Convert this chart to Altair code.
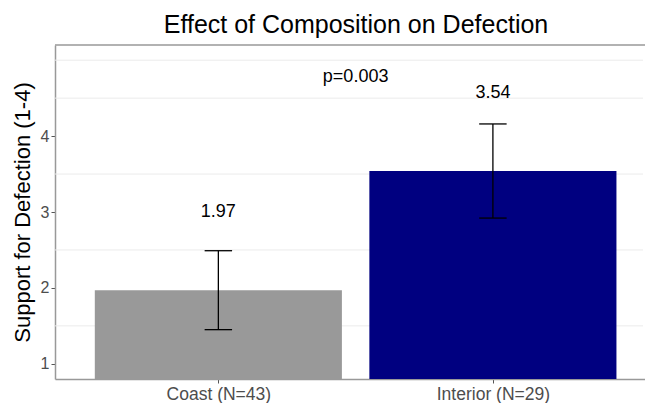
import altair as alt
import pandas as pd

# ---- data ----
groups = ["Coast (N=43)", "Interior (N=29)"]
means = [1.97, 3.54]
lower = [1.45, 2.92]
upper = [2.49, 4.16]
bar_colors = ["#999999", "#000080"]
p_text = "p=0.003"
p_y = 4.78
y_ticks = [1, 2, 3, 4]
minor_grid = [1.5, 2.5, 3.5, 4.5, 5]
y_min, y_max = 0.8, 5.2

FONT = "Liberation Sans"
pos = list(range(1, len(groups) + 1))
df = pd.DataFrame({"group": groups, "pos": pos, "mean": means,
                   "lower": lower, "upper": upper})
df["x_lo"] = df["pos"] - 0.45
df["x_hi"] = df["pos"] + 0.45
df["cap_lo"] = df["pos"] - 0.05
df["cap_hi"] = df["pos"] + 0.05
df["base"] = y_min
df["label"] = df["mean"].map(lambda v: f"{v:.2f}")
df["label_y"] = df["mean"] + 1.03

p_df = pd.DataFrame({"x": [sum(pos) / len(pos)], "y": [p_y], "t": [p_text]})
grid_df = pd.DataFrame({"g": minor_grid})
frame_df = pd.DataFrame({"top": [y_max]})

W, H = 590, 334
xs = alt.Scale(domain=[0.405, 2.554], nice=False, zero=False)
ys = alt.Scale(domain=[y_min, y_max], nice=False, zero=False)

label_expr = " : ".join(
    [f"datum.value == {p} ? '{g}'" for p, g in zip(pos, groups)]) + " : ''"

x_axis = alt.Axis(values=pos, labelExpr=label_expr, title=None, grid=False,
                  tickSize=4, labelPadding=2, labelFontSize=17.5,
                  labelColor="#4D4D4D", tickColor="#555555",
                  domainColor="#999999", domainWidth=1.5, labelFont=FONT)
y_axis = alt.Axis(values=y_ticks, title="Support for Defection (1-4)", grid=False,
                  tickSize=4, labelPadding=2, labelFontSize=16,
                  labelColor="#4D4D4D", tickColor="#555555",
                  domainColor="#999999", domainWidth=1.5, labelFont=FONT,
                  titleFont=FONT, titleFontSize=22, titleFontWeight="normal",
                  titleColor="black", titlePadding=6)

grid = alt.Chart(grid_df).mark_rule(color="#EBEBEB", strokeWidth=1).encode(
    y=alt.Y("g:Q", scale=ys, axis=y_axis))

bars = alt.Chart(df).mark_bar().encode(
    x=alt.X("x_lo:Q", scale=xs, axis=x_axis),
    x2="x_hi:Q",
    y=alt.Y("mean:Q", scale=ys, axis=y_axis),
    y2="base:Q",
    color=alt.Color("group:N", scale=alt.Scale(domain=groups, range=bar_colors), legend=None),
)

top_border = alt.Chart(frame_df).mark_rule(color="#999999", strokeWidth=1.5).encode(
    y=alt.Y("top:Q", scale=ys, axis=y_axis))

# the reference's panel continues past the right edge of the image: mask the view edge
edge_mask = alt.Chart(frame_df).mark_rule(color="white", strokeWidth=4).encode(
    x=alt.value(W), y=alt.value(1), y2=alt.value(H - 1))

vline = alt.Chart(df).mark_rule(color="black", strokeWidth=1.3).encode(
    x=alt.X("pos:Q", scale=xs, axis=x_axis),
    y=alt.Y("lower:Q", scale=ys, axis=y_axis), y2="upper:Q")
cap_top = alt.Chart(df).mark_rule(color="black", strokeWidth=1.3).encode(
    x=alt.X("cap_lo:Q", scale=xs, axis=x_axis), x2="cap_hi:Q",
    y=alt.Y("upper:Q", scale=ys, axis=y_axis))
cap_bot = alt.Chart(df).mark_rule(color="black", strokeWidth=1.3).encode(
    x=alt.X("cap_lo:Q", scale=xs, axis=x_axis), x2="cap_hi:Q",
    y=alt.Y("lower:Q", scale=ys, axis=y_axis))

labels = alt.Chart(df).mark_text(font=FONT, fontSize=18, color="black", baseline="middle").encode(
    x=alt.X("pos:Q", scale=xs, axis=x_axis),
    y=alt.Y("label_y:Q", scale=ys, axis=y_axis),
    text="label:N")

ptext = alt.Chart(p_df).mark_text(font=FONT, fontSize=18, color="black", baseline="middle").encode(
    x=alt.X("x:Q", scale=xs, axis=x_axis),
    y=alt.Y("y:Q", scale=ys, axis=y_axis),
    text="t:N")

chart = alt.layer(grid, bars, top_border, vline, cap_top, cap_bot, labels, ptext,
                  edge_mask).properties(
    width=W, height=H,
    title=alt.TitleParams("Effect of Composition on Defection", font=FONT, fontSize=25,
                          fontWeight="normal", color="black", anchor="middle",
                          offset=6, dx=6),
    autosize=alt.AutoSizeParams(type="none"),
    padding={"left": 47, "top": 37, "right": 0, "bottom": 24},
).configure_view(stroke="white", strokeWidth=0)

chart.save("out.html", embed_options={"renderer": "svg", "actions": False})
